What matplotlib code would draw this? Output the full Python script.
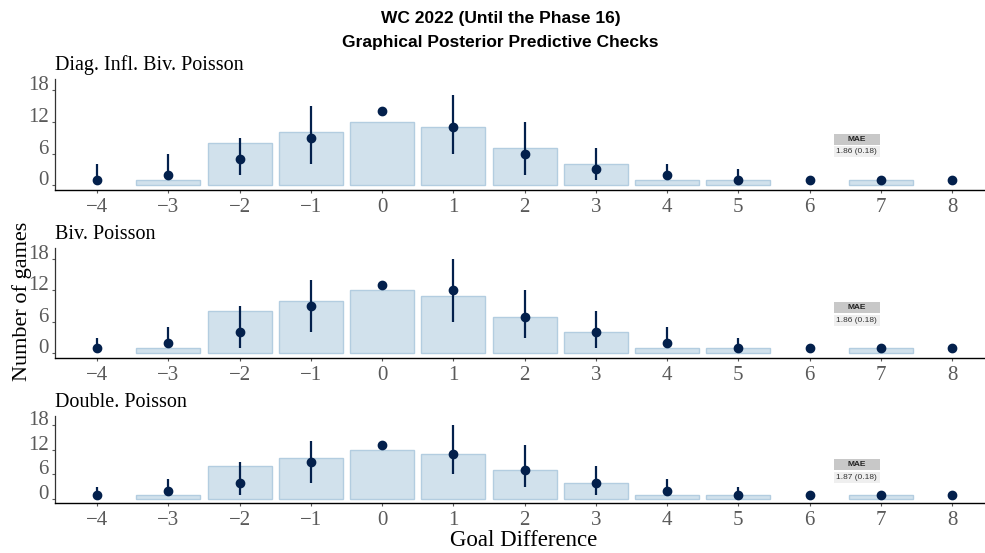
import matplotlib
matplotlib.use("Agg")
import matplotlib.pyplot as plt
import matplotlib.transforms as mtransforms
from matplotlib.patches import Rectangle
import numpy as np

# data
goal_diff = [-4, -3, -2, -1, 0, 1, 2, 3, 4, 5, 6, 7, 8]
observed = [0, 1, 8, 10, 12, 11, 7, 4, 1, 1, 0, 1, 0]

model_names = ["Diag. Infl. Biv. Poisson", "Biv. Poisson", "Double. Poisson"]

diag_med = [1, 2, 5, 9, 14, 11, 6, 3, 2, 1, 1, 1, 1]
diag_lo = [1, 1, 2, 4, 14, 6, 2, 1, 1, 1, 1, 1, 1]
diag_hi = [4, 6, 9, 15, 14, 17, 12, 7, 4, 3, 1, 1, 1]

biv_med = [1, 2, 4, 9, 13, 12, 7, 4, 2, 1, 1, 1, 1]
biv_lo = [1, 1, 1, 4, 13, 6, 3, 1, 1, 1, 1, 1, 1]
biv_hi = [3, 5, 9, 14, 13, 18, 12, 8, 5, 3, 1, 1, 1]

dbl_med = [1, 2, 4, 9, 13, 11, 7, 4, 2, 1, 1, 1, 1]
dbl_lo = [1, 1, 1, 4, 13, 6, 3, 1, 1, 1, 1, 1, 1]
dbl_hi = [3, 5, 9, 14, 13, 18, 13, 8, 5, 3, 1, 1, 1]

mae_text = ["1.86 (0.18)", "1.86 (0.18)", "1.87 (0.18)"]

y_ticks = [0, 6, 12, 18]

# style
W, H, DPI = 985, 553, 100
serif = ["Liberation Serif", "DejaVu Serif"]
sans = ["Liberation Sans", "DejaVu Sans"]
bar_fill = "#d1e1ec"
bar_edge = "#b3cde0"
dot_col = "#03204c"
tick_col = "#5a5a5a"

fig = plt.figure(figsize=(W / DPI, H / DPI), dpi=DPI)

# axes boxes in pixels (left, top, bottom)
boxes = [(55, 79, 190), (55, 248, 358), (55, 416, 503)]
meds = [diag_med, biv_med, dbl_med]
los = [diag_lo, biv_lo, dbl_lo]
his = [diag_hi, biv_hi, dbl_hi]

gd = np.array(goal_diff)
obs = np.array(observed)
nz = obs > 0  # empty bins get no bar outline

for i, (l, t, b) in enumerate(boxes):
    ax = fig.add_axes([l / W, (H - b) / H, (W - l) / W, (b - t) / H])
    ax.bar(gd[nz], obs[nz], width=0.9, color=bar_fill, edgecolor=bar_edge,
           linewidth=1.0, zorder=1)
    ax.vlines(goal_diff, los[i], his[i], color=dot_col, linewidth=1.6, zorder=2)
    ax.plot(goal_diff, meds[i], "o", color=dot_col, markersize=6, zorder=3)

    ax.set_xlim(-4.59, 8.46)
    ax.set_ylim(-0.9, 20.1)
    ax.set_xticks(goal_diff)
    ax.set_yticks(y_ticks)
    for sp in ["top", "right"]:
        ax.spines[sp].set_visible(False)
    ax.spines["left"].set_color("#333333")
    ax.spines["bottom"].set_color("black")
    ax.spines["left"].set_linewidth(0.9)
    ax.spines["bottom"].set_linewidth(1.0)
    ax.tick_params(axis="both", length=2.5, width=0.8, color=tick_col,
                   labelcolor=tick_col, labelsize=15)
    ax.tick_params(axis="y", pad=2)
    ax.tick_params(axis="x", pad=3.5)
    for lab in ax.get_xticklabels() + ax.get_yticklabels():
        lab.set_fontfamily(serif)
    for lab in ax.get_yticklabels():
        lab.set_verticalalignment("baseline")

    ax.set_title(model_names[i], loc="left", fontsize=14.5, family=serif,
                 pad=6.5)

    # MAE box, anchored at data point, sized in pixels
    tr = fig.dpi_scale_trans + mtransforms.ScaledTranslation(6.66, 9.7, ax.transData)
    px = 1.0 / DPI
    ax.add_artist(Rectangle((-23 * px, -11 * px), 46 * px, 11 * px,
                            transform=tr, facecolor="#c8c8c8", edgecolor="none",
                            clip_on=False, zorder=4))
    ax.add_artist(Rectangle((-23 * px, -23.5 * px), 46 * px, 11 * px,
                            transform=tr, facecolor="#efefef", edgecolor="none",
                            clip_on=False, zorder=4))
    ax.text(0, -5.5 * px, "MAE", transform=tr, ha="center", va="center",
            fontsize=6, fontweight="bold", family=sans, color="#222222", zorder=5)
    ax.text(0, -18 * px, mae_text[i], transform=tr, ha="center", va="center",
            fontsize=6, family=sans, color="#333333", zorder=5)

fig.text(0.508, 1 - 19 / H, "WC 2022 (Until the Phase 16)", ha="center",
         va="center", fontsize=12.5, fontweight="bold", family=sans)
fig.text(0.508, 1 - 43 / H, "Graphical Posterior Predictive Checks", ha="center",
         va="center", fontsize=12.5, fontweight="bold", family=sans)
fig.text(22 / W, 1 - 301 / H, "Number of games", rotation=90, ha="center",
         va="center", fontsize=16, family=serif)
fig.text(524 / W, 1 - 541 / H, "Goal Difference", ha="center", va="center",
         fontsize=16.5, family=serif)

fig.savefig("out.png", dpi=DPI)
